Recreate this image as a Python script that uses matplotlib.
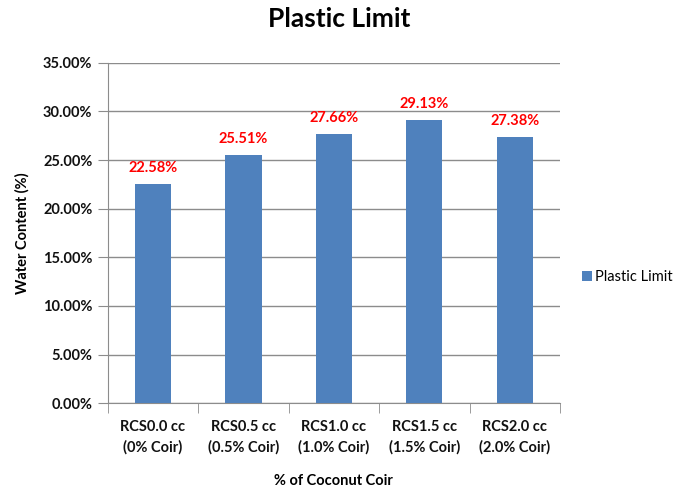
import numpy as np
import matplotlib.pyplot as plt
from matplotlib.ticker import FuncFormatter, FixedLocator

plt.rcParams['font.family'] = ['Lato', 'DejaVu Sans']

categories = ['RCS0.0 cc\n(0% Coir)', 'RCS0.5 cc\n(0.5% Coir)', 'RCS1.0 cc\n(1.0% Coir)',
              'RCS1.5 cc\n(1.5% Coir)', 'RCS2.0 cc\n(2.0% Coir)']
plastic_limit = [22.58, 25.51, 27.66, 29.13, 27.38]
bar_color = '#4F81BD'
grid_color = '#8C8C8C'

fig = plt.figure(figsize=(6.78, 4.99), dpi=100)
ax = fig.add_axes([0.159, 0.192, 0.667, 0.682])

x = np.arange(len(categories))
bars = ax.bar(x, plastic_limit, width=0.4, color=bar_color, label='Plastic Limit', zorder=3)

for xi, v in zip(x, plastic_limit):
    ax.text(xi, v + 0.9, '%.2f%%' % v, ha='center', va='bottom', color='red',
            fontsize=10.5, fontweight='bold')

ax.set_xlim(-0.5, len(categories) - 0.5)
ax.set_ylim(0, 35)
ax.set_yticks(np.arange(0, 36, 5))
ax.yaxis.set_major_formatter(FuncFormatter(lambda v, p: '%.2f%%' % v))
ax.set_xticks(x)
ax.set_xticklabels(categories, fontsize=10.5, fontweight='bold', color='#111111', linespacing=1.5)
ax.xaxis.set_minor_locator(FixedLocator(np.arange(-0.5, len(categories), 1)))
ax.tick_params(axis='x', which='major', length=0, pad=12)
ax.tick_params(axis='x', which='minor', length=7, color=grid_color)
ax.tick_params(axis='y', length=7, color=grid_color, labelsize=10.5, pad=4)
for lbl in ax.get_yticklabels():
    lbl.set_fontweight('bold')
    lbl.set_color('#111111')

ax.grid(axis='y', color=grid_color, linewidth=1, zorder=0)
for s in ['top', 'right']:
    ax.spines[s].set_visible(False)
for s in ['left', 'bottom']:
    ax.spines[s].set_color(grid_color)

ax.set_ylabel('Water Content (%)', fontsize=10.5, fontweight='bold', labelpad=10)
ax.set_xlabel('% of Coconut Coir', fontsize=10.5, fontweight='bold', labelpad=14)
fig.suptitle('Plastic Limit', fontsize=19, fontweight='bold', x=0.5, y=0.985)

ax.legend(loc='center left', bbox_to_anchor=(1.02, 0.37), frameon=False, fontsize=10.5,
          handlelength=0.7, handleheight=0.7, handletextpad=0.2)

plt.savefig('out.png', dpi=100)
